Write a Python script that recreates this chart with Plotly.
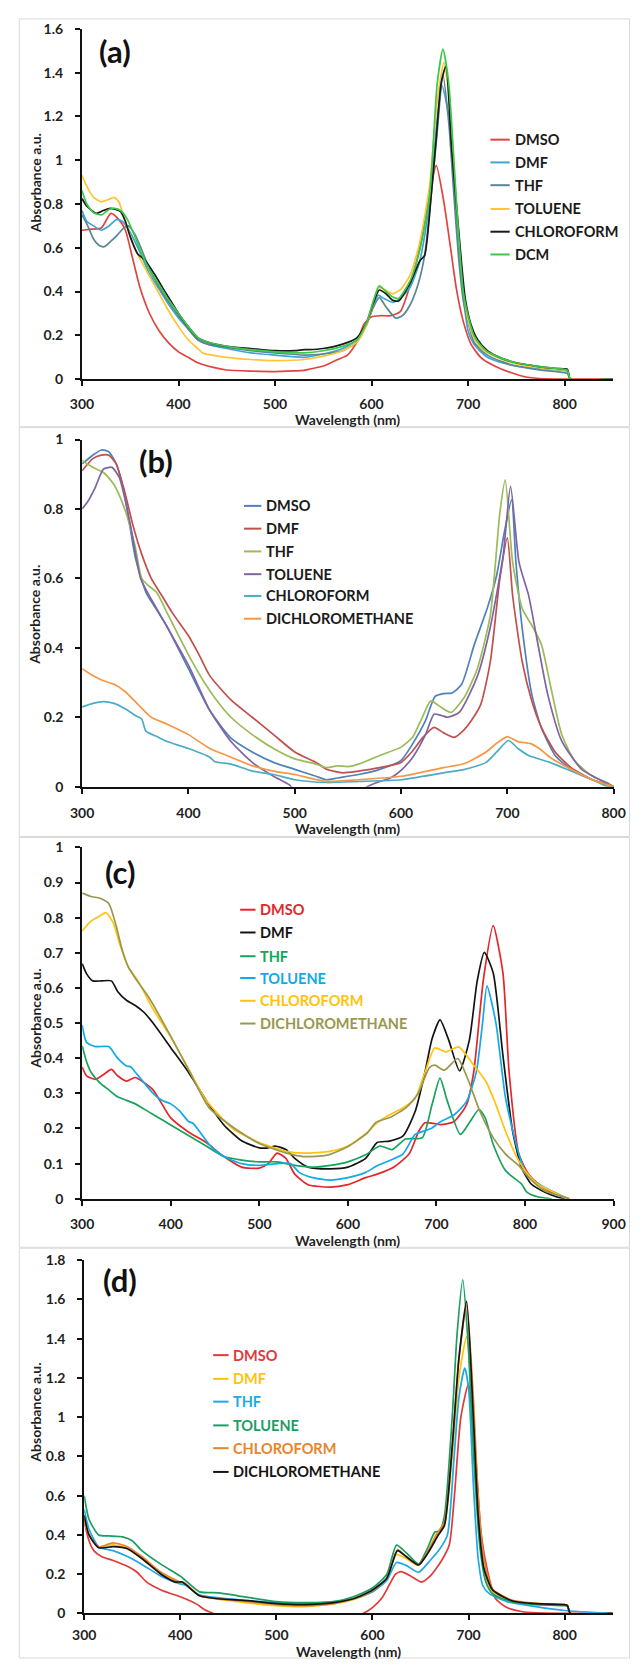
import plotly.graph_objects as go

W, H = 642, 1667

# ---------------- Panel (a) ----------------
A_DMSO_WL = [300, 310, 320, 330, 338, 345, 352, 360, 370, 380, 390, 400, 410, 420, 435, 450, 475, 500, 520, 530, 535, 550, 565, 575, 585, 592, 600, 610, 620, 630, 640, 650, 660, 667, 675, 682, 688, 695, 703, 713, 723, 735, 748, 760, 780, 850]
A_DMSO_ABS = [0.68, 0.685, 0.69, 0.757, 0.73, 0.68, 0.56, 0.42, 0.3, 0.22, 0.165, 0.125, 0.1, 0.075, 0.055, 0.042, 0.037, 0.035, 0.038, 0.04, 0.045, 0.06, 0.09, 0.11, 0.17, 0.25, 0.285, 0.29, 0.29, 0.31, 0.43, 0.6, 0.84, 0.976, 0.806, 0.595, 0.41, 0.264, 0.16, 0.1, 0.07, 0.045, 0.025, 0.01, 0.002, 0.0]

A_DMF_WL = [300, 305, 312, 320, 328, 336, 342, 350, 360, 370, 380, 390, 400, 410, 420, 430, 450, 475, 500, 530, 550, 570, 585, 595, 602, 607, 612, 622, 630, 640, 650, 660, 667, 673, 680, 685, 690, 695, 700, 706, 712, 720, 735, 750, 770, 790, 800, 803, 806, 850]
A_DMF_ABS = [0.77, 0.72, 0.7, 0.68, 0.7, 0.73, 0.72, 0.67, 0.58, 0.48, 0.41, 0.34, 0.28, 0.23, 0.18, 0.16, 0.14, 0.12, 0.11, 0.1, 0.115, 0.14, 0.18, 0.25, 0.34, 0.384, 0.37, 0.351, 0.37, 0.42, 0.54, 0.8, 1.15, 1.34, 1.2, 0.93, 0.62, 0.38, 0.22, 0.16, 0.13, 0.1, 0.075, 0.06, 0.05, 0.042, 0.04, 0.035, 0.0, 0.0]

A_THF_WL = [300, 306, 312, 318, 323, 330, 337, 343, 348, 355, 362, 370, 380, 390, 400, 410, 420, 430, 450, 475, 500, 530, 550, 570, 585, 595, 602, 608, 615, 625, 632, 640, 648, 655, 660, 667, 674, 680, 685, 690, 695, 700, 706, 712, 720, 735, 750, 770, 790, 800, 803, 806, 850]
A_THF_ABS = [0.75, 0.7, 0.64, 0.61, 0.605, 0.63, 0.66, 0.69, 0.7, 0.66, 0.59, 0.5, 0.42, 0.35, 0.29, 0.23, 0.18, 0.16, 0.145, 0.13, 0.12, 0.11, 0.115, 0.13, 0.17, 0.25, 0.33, 0.372, 0.33, 0.279, 0.29, 0.34, 0.43, 0.565, 0.76, 1.08, 1.386, 1.17, 0.86, 0.565, 0.36, 0.26, 0.17, 0.14, 0.11, 0.08, 0.06, 0.045, 0.035, 0.03, 0.025, 0.0, 0.0]

A_TOL_WL = [300, 305, 312, 320, 327, 333, 338, 345, 352, 360, 370, 380, 390, 400, 410, 420, 425, 435, 450, 475, 500, 530, 550, 570, 585, 595, 602, 607, 613, 622, 630, 640, 650, 660, 668, 675, 680, 685, 690, 695, 700, 706, 712, 720, 735, 750, 770, 790, 800, 803, 806, 850]
A_TOL_ABS = [0.93, 0.88, 0.83, 0.81, 0.82, 0.83, 0.81, 0.72, 0.63, 0.55, 0.47, 0.39, 0.31, 0.24, 0.18, 0.14, 0.12, 0.11, 0.1, 0.09, 0.085, 0.09, 0.105, 0.13, 0.17, 0.25, 0.35, 0.42, 0.41, 0.39, 0.41, 0.475, 0.625, 0.88, 1.27, 1.447, 1.3, 1.0, 0.68, 0.42, 0.27, 0.19, 0.15, 0.12, 0.09, 0.07, 0.055, 0.045, 0.042, 0.04, 0.0, 0.0]

A_CHL_WL = [300, 305, 315, 322, 329, 335, 340, 345, 350, 358, 365, 375, 386, 393, 400, 410, 420, 430, 450, 475, 500, 520, 530, 535, 550, 570, 585, 595, 602, 608, 615, 622, 628, 640, 650, 655, 662, 667, 672, 677, 683, 690, 697, 703, 710, 720, 735, 750, 770, 790, 800, 803, 806, 850]
A_CHL_ABS = [0.825, 0.79, 0.757, 0.77, 0.78, 0.775, 0.765, 0.72, 0.65, 0.57, 0.545, 0.48, 0.4, 0.35, 0.3, 0.24, 0.19, 0.17, 0.15, 0.14, 0.13, 0.13, 0.135, 0.135, 0.14, 0.16, 0.19, 0.26, 0.35, 0.407, 0.39, 0.36, 0.357, 0.44, 0.54, 0.565, 0.85, 1.1, 1.35, 1.43, 1.05, 0.69, 0.37, 0.25, 0.18, 0.13, 0.095, 0.075, 0.06, 0.05, 0.047, 0.045, 0.0, 0.0]

A_DCM_WL = [300, 305, 312, 320, 328, 334, 340, 347, 355, 362, 370, 380, 390, 400, 410, 420, 430, 450, 475, 500, 530, 550, 570, 585, 595, 602, 608, 615, 622, 628, 640, 650, 660, 668, 674, 680, 685, 690, 695, 700, 706, 712, 720, 735, 750, 770, 790, 800, 803, 806, 850]
A_DCM_ABS = [0.862, 0.8, 0.76, 0.75, 0.775, 0.78, 0.77, 0.73, 0.65, 0.57, 0.5, 0.43, 0.36, 0.3, 0.24, 0.19, 0.17, 0.15, 0.135, 0.125, 0.12, 0.13, 0.15, 0.18, 0.26, 0.36, 0.426, 0.4, 0.375, 0.369, 0.45, 0.59, 0.83, 1.35, 1.507, 1.35, 1.02, 0.67, 0.4, 0.29, 0.2, 0.16, 0.125, 0.095, 0.075, 0.06, 0.05, 0.045, 0.04, 0.0, 0.0]

# ---------------- Panel (b) ----------------
B_DMSO_WL = [300, 310, 318, 325, 332, 340, 350, 360, 370, 380, 400, 420, 440, 460, 480, 500, 520, 530, 540, 560, 580, 600, 611, 623, 632, 640, 648, 657, 669, 681, 690, 697, 704, 708, 714, 723, 732, 745, 760, 780, 795, 800]
B_DMSO_ABS = [0.93, 0.955, 0.97, 0.965, 0.93, 0.84, 0.66, 0.56, 0.51, 0.46, 0.34, 0.22, 0.14, 0.1, 0.07, 0.05, 0.03, 0.02, 0.025, 0.035, 0.05, 0.076, 0.124, 0.19, 0.26, 0.268, 0.27, 0.295, 0.41, 0.513, 0.61, 0.73, 0.827, 0.65, 0.456, 0.266, 0.17, 0.09, 0.05, 0.02, 0.005, 0.0]

B_DMF_WL = [300, 310, 318, 325, 332, 340, 348, 356, 365, 375, 385, 400, 410, 420, 440, 460, 480, 500, 520, 530, 545, 560, 580, 600, 610, 620, 631, 640, 650, 658, 666, 675, 684, 693, 700, 705, 714, 723, 732, 745, 760, 780, 795, 800]
B_DMF_ABS = [0.91, 0.945, 0.955, 0.955, 0.93, 0.85, 0.75, 0.67, 0.6, 0.55, 0.5, 0.435, 0.38, 0.32, 0.25, 0.2, 0.15, 0.1, 0.07, 0.05, 0.04, 0.045, 0.055, 0.07, 0.1, 0.14, 0.171, 0.155, 0.142, 0.16, 0.19, 0.237, 0.36, 0.6, 0.717, 0.55, 0.36, 0.247, 0.171, 0.1, 0.055, 0.02, 0.005, 0.0]

B_THF_WL = [300, 310, 320, 330, 340, 350, 356, 362, 370, 380, 400, 415, 425, 440, 460, 480, 500, 520, 530, 540, 550, 560, 580, 600, 611, 620, 628, 637, 647, 660, 672, 684, 693, 698, 705, 714, 723, 732, 741, 751, 763, 780, 795, 800]
B_THF_ABS = [0.94, 0.92, 0.905, 0.87, 0.8, 0.69, 0.6, 0.58, 0.56, 0.5, 0.38, 0.3, 0.255, 0.2, 0.15, 0.11, 0.08, 0.065, 0.055, 0.06, 0.058, 0.065, 0.09, 0.114, 0.143, 0.2, 0.247, 0.23, 0.214, 0.26, 0.342, 0.494, 0.79, 0.884, 0.646, 0.513, 0.465, 0.41, 0.285, 0.152, 0.076, 0.03, 0.01, 0.0]

B_TOL_WL = [300, 305, 312, 320, 328, 335, 345, 355, 365, 380, 400, 420, 440, 460, 480, 495, 502, 560, 568, 580, 590, 600, 611, 623, 631, 638, 644, 655, 672, 684, 696, 703, 711, 720, 726, 738, 751, 770, 795, 800]
B_TOL_ABS = [0.8, 0.82, 0.86, 0.915, 0.92, 0.89, 0.76, 0.6, 0.54, 0.46, 0.35, 0.22, 0.13, 0.07, 0.03, 0.005, -0.02, -0.02, 0.0, 0.015, 0.025, 0.047, 0.085, 0.15, 0.209, 0.205, 0.2, 0.215, 0.32, 0.46, 0.665, 0.865, 0.646, 0.551, 0.456, 0.266, 0.133, 0.05, 0.008, 0.0]

B_CHL_WL = [300, 310, 320, 330, 340, 350, 356, 360, 370, 380, 400, 420, 425, 440, 460, 480, 500, 530, 560, 600, 640, 660, 680, 690, 701, 710, 720, 740, 760, 780, 795, 800]
B_CHL_ABS = [0.23, 0.24, 0.245, 0.24, 0.225, 0.205, 0.195, 0.16, 0.145, 0.13, 0.11, 0.085, 0.072, 0.065, 0.045, 0.035, 0.02, 0.012, 0.015, 0.02, 0.04, 0.05, 0.07, 0.1, 0.133, 0.11, 0.09, 0.07, 0.045, 0.02, 0.0, 0.0]

B_DCM_WL = [300, 310, 320, 330, 340, 350, 358, 365, 380, 400, 420, 440, 460, 480, 500, 530, 560, 600, 640, 660, 680, 690, 700, 710, 722, 730, 740, 760, 780, 800]
B_DCM_ABS = [0.34, 0.32, 0.305, 0.295, 0.275, 0.245, 0.22, 0.2, 0.18, 0.15, 0.11, 0.085, 0.06, 0.045, 0.035, 0.015, 0.02, 0.03, 0.055, 0.067, 0.1, 0.125, 0.144, 0.13, 0.124, 0.11, 0.085, 0.05, 0.02, 0.0]

# ---------------- Panel (c) ----------------
C_DMSO_WL = [300, 305, 315, 325, 333, 340, 350, 360, 370, 380, 390, 400, 420, 440, 460, 480, 500, 510, 520, 530, 540, 555, 580, 600, 620, 633, 651, 669, 680, 687, 695, 705, 720, 734, 742, 753, 764, 775, 782, 793, 804, 815, 829, 844, 850]
C_DMSO_ABS = [0.375, 0.35, 0.34, 0.355, 0.368, 0.35, 0.335, 0.345, 0.33, 0.31, 0.27, 0.23, 0.19, 0.16, 0.12, 0.09, 0.087, 0.1, 0.13, 0.115, 0.07, 0.04, 0.033, 0.04, 0.06, 0.07, 0.089, 0.127, 0.192, 0.216, 0.215, 0.211, 0.22, 0.268, 0.36, 0.624, 0.777, 0.643, 0.36, 0.127, 0.07, 0.042, 0.019, 0.005, 0.0]

C_DMF_WL = [300, 305, 312, 322, 333, 340, 350, 360, 370, 380, 400, 420, 440, 460, 480, 500, 510, 518, 530, 540, 555, 580, 600, 620, 633, 647, 662, 676, 687, 695, 704, 714, 726, 737, 746, 754, 764, 775, 786, 796, 807, 822, 836, 845]
C_DMF_ABS = [0.669, 0.64, 0.62, 0.62, 0.62, 0.59, 0.565, 0.55, 0.53, 0.5, 0.43, 0.36, 0.28, 0.21, 0.165, 0.145, 0.145, 0.15, 0.14, 0.115, 0.09, 0.085, 0.09, 0.115, 0.16, 0.164, 0.178, 0.249, 0.36, 0.455, 0.509, 0.45, 0.364, 0.45, 0.62, 0.701, 0.643, 0.408, 0.192, 0.089, 0.042, 0.019, 0.005, 0.0]

C_THF_WL = [300, 305, 310, 320, 330, 340, 350, 360, 370, 380, 400, 420, 440, 460, 480, 500, 520, 540, 560, 580, 600, 620, 636, 650, 665, 684, 695, 704, 712, 727, 738, 748, 755, 764, 778, 796, 802, 815, 830]
C_THF_ABS = [0.435, 0.39, 0.36, 0.33, 0.31, 0.29, 0.28, 0.27, 0.255, 0.24, 0.21, 0.18, 0.15, 0.12, 0.11, 0.105, 0.105, 0.095, 0.09, 0.095, 0.105, 0.125, 0.15, 0.14, 0.17, 0.174, 0.268, 0.343, 0.28, 0.183, 0.22, 0.254, 0.23, 0.155, 0.08, 0.042, 0.019, 0.005, 0.0]

C_TOL_WL = [300, 305, 315, 330, 340, 350, 355, 360, 370, 380, 390, 400, 410, 420, 425, 430, 445, 460, 480, 500, 520, 535, 545, 560, 580, 600, 620, 633, 662, 676, 694, 705, 720, 734, 745, 752, 757, 767, 778, 793, 804, 820, 840, 848]
C_TOL_ABS = [0.494, 0.445, 0.433, 0.433, 0.4, 0.378, 0.375, 0.36, 0.33, 0.3, 0.28, 0.27, 0.25, 0.22, 0.215, 0.2, 0.15, 0.12, 0.1, 0.095, 0.1, 0.1, 0.075, 0.06, 0.053, 0.06, 0.075, 0.094, 0.127, 0.183, 0.2, 0.22, 0.239, 0.277, 0.361, 0.5, 0.606, 0.502, 0.286, 0.127, 0.061, 0.035, 0.01, 0.0]

C_CHL_WL = [300, 310, 320, 327, 335, 343, 352, 363, 380, 400, 420, 440, 470, 500, 530, 550, 580, 600, 620, 633, 647, 662, 676, 687, 698, 711, 725, 742, 756, 767, 778, 789, 800, 814, 836, 847]
C_CHL_ABS = [0.762, 0.79, 0.805, 0.814, 0.785, 0.72, 0.66, 0.62, 0.54, 0.46, 0.37, 0.28, 0.2, 0.16, 0.135, 0.13, 0.135, 0.15, 0.185, 0.216, 0.239, 0.258, 0.286, 0.36, 0.429, 0.418, 0.432, 0.38, 0.333, 0.268, 0.192, 0.127, 0.08, 0.042, 0.014, 0.0]

C_DCM_WL = [300, 310, 320, 330, 338, 345, 352, 362, 376, 399, 421, 443, 470, 500, 532, 550, 577, 599, 621, 632, 648, 666, 679, 692, 698, 709, 724, 735, 749, 764, 778, 793, 804, 822, 844, 850]
C_DCM_ABS = [0.87, 0.86, 0.855, 0.84, 0.78, 0.71, 0.66, 0.62, 0.57, 0.467, 0.363, 0.26, 0.204, 0.157, 0.129, 0.12, 0.124, 0.147, 0.185, 0.218, 0.232, 0.26, 0.298, 0.373, 0.38, 0.366, 0.399, 0.343, 0.249, 0.174, 0.127, 0.094, 0.061, 0.023, 0.005, 0.0]

# ---------------- Panel (d) ----------------
D_DMSO_WL = [300, 305, 310, 318, 330, 345, 355, 365, 380, 400, 410, 418, 425, 432, 440, 580, 590, 600, 610, 618, 624, 630, 640, 651, 660, 672, 680, 685, 692, 700, 707, 713, 720, 728, 740, 755, 770, 850]
D_DMSO_ABS = [0.47, 0.37, 0.32, 0.29, 0.27, 0.24, 0.21, 0.16, 0.12, 0.085, 0.065, 0.045, 0.02, 0.005, -0.01, -0.01, 0.0, 0.03, 0.08, 0.15, 0.2, 0.213, 0.19, 0.16, 0.19, 0.27, 0.35, 0.58, 1.0, 1.17, 0.83, 0.41, 0.21, 0.076, 0.03, 0.01, 0.003, 0.0]

D_DMF_WL = [300, 305, 315, 330, 345, 360, 380, 400, 405, 420, 460, 500, 530, 560, 580, 600, 615, 625, 635, 648, 658, 667, 675, 683, 690, 698, 705, 711, 718, 725, 745, 770, 800, 803, 806, 850]
D_DMF_ABS = [0.47, 0.4, 0.34, 0.35, 0.33, 0.28, 0.2, 0.155, 0.15, 0.09, 0.06, 0.04, 0.035, 0.05, 0.07, 0.11, 0.18, 0.3, 0.28, 0.245, 0.32, 0.41, 0.46, 0.8, 1.2, 1.41, 0.95, 0.4, 0.18, 0.11, 0.065, 0.05, 0.045, 0.04, 0.0, 0.0]

D_THF_WL = [300, 305, 315, 330, 345, 360, 380, 400, 405, 420, 460, 500, 530, 560, 580, 600, 615, 625, 635, 648, 660, 670, 678, 685, 690, 696, 700, 705, 710, 715, 722, 740, 770, 800, 850]
D_THF_ABS = [0.53, 0.43, 0.34, 0.32, 0.29, 0.25, 0.19, 0.15, 0.145, 0.095, 0.07, 0.055, 0.05, 0.06, 0.075, 0.11, 0.17, 0.26, 0.245, 0.21, 0.27, 0.328, 0.4, 0.8, 1.1, 1.25, 1.15, 0.66, 0.28, 0.14, 0.1, 0.06, 0.035, 0.015, 0.0]

D_TOL_WL = [300, 305, 315, 325, 340, 350, 360, 380, 400, 405, 420, 440, 460, 500, 530, 560, 580, 600, 615, 625, 635, 648, 657, 665, 670, 675, 683, 688, 694, 700, 705, 712, 718, 725, 745, 770, 800, 803, 806, 850]
D_TOL_ABS = [0.6, 0.48, 0.4, 0.395, 0.39, 0.37, 0.32, 0.25, 0.19, 0.17, 0.11, 0.105, 0.09, 0.06, 0.055, 0.06, 0.085, 0.13, 0.2, 0.348, 0.31, 0.252, 0.33, 0.415, 0.42, 0.5, 1.0, 1.42, 1.7, 1.34, 0.83, 0.33, 0.16, 0.1, 0.06, 0.045, 0.04, 0.035, 0.0, 0.0]

D_CHL_WL = [300, 305, 315, 330, 345, 360, 380, 400, 405, 420, 460, 500, 530, 560, 580, 600, 615, 626, 635, 648, 658, 668, 675, 683, 690, 698, 705, 710, 716, 725, 745, 770, 800, 803, 806, 850]
D_CHL_ABS = [0.48, 0.4, 0.34, 0.36, 0.34, 0.29, 0.21, 0.16, 0.155, 0.09, 0.065, 0.045, 0.04, 0.05, 0.075, 0.115, 0.18, 0.325, 0.29, 0.247, 0.32, 0.41, 0.47, 0.85, 1.3, 1.57, 1.1, 0.6, 0.28, 0.125, 0.068, 0.052, 0.045, 0.04, 0.0, 0.0]

D_DCM_WL = [300, 305, 315, 330, 345, 360, 380, 395, 402, 420, 440, 470, 500, 530, 560, 580, 600, 615, 626, 635, 648, 658, 668, 675, 683, 690, 698, 705, 710, 716, 725, 745, 770, 800, 803, 806, 850]
D_DCM_ABS = [0.5, 0.4, 0.335, 0.34, 0.33, 0.28, 0.2, 0.16, 0.16, 0.09, 0.075, 0.065, 0.05, 0.045, 0.055, 0.075, 0.12, 0.18, 0.32, 0.29, 0.247, 0.31, 0.395, 0.45, 0.85, 1.3, 1.59, 1.0, 0.5, 0.23, 0.12, 0.065, 0.05, 0.045, 0.04, 0.0, 0.0]

# name, wavelengths, absorbances, line colour, legend text colour
PANELS = [
    dict(tag="(a)", xr=[300, 850], yr=[0, 1.6], dy=0.2,
         box=(72.7, 624.2, 20, 374), label=(107, 42), ytitle=176, xtitle=415, xstand=6,
         leg=(497, 517, 520, [132, 155, 178, 202, 225, 248]),
         series=[("DMSO", A_DMSO_WL, A_DMSO_ABS, "#E0443E", "#1a1a1a"),
                 ("DMF", A_DMF_WL, A_DMF_ABS, "#3FA4D8", "#1a1a1a"),
                 ("THF", A_THF_WL, A_THF_ABS, "#5A8796", "#1a1a1a"),
                 ("TOLUENE", A_TOL_WL, A_TOL_ABS, "#FFC535", "#1a1a1a"),
                 ("CHLOROFORM", A_CHL_WL, A_CHL_ABS, "#1a1a1a", "#1a1a1a"),
                 ("DCM", A_DCM_WL, A_DCM_ABS, "#3CC84A", "#1a1a1a")]),
    dict(tag="(b)", xr=[300, 800], yr=[0, 1.0], dy=0.2,
         box=(72.9, 625, 435, 785.7), label=(150, 457), ytitle=612, xtitle=828, xstand=8,
         leg=(241, 259, 262, [502, 525, 548, 571, 593, 616]),
         series=[("DMSO", B_DMSO_WL, B_DMSO_ABS, "#4F81BD", "#1a1a1a"),
                 ("DMF", B_DMF_WL, B_DMF_ABS, "#C0504D", "#1a1a1a"),
                 ("THF", B_THF_WL, B_THF_ABS, "#9BBB59", "#1a1a1a"),
                 ("TOLUENE", B_TOL_WL, B_TOL_ABS, "#8064A2", "#1a1a1a"),
                 ("CHLOROFORM", B_CHL_WL, B_CHL_ABS, "#4BACC6", "#1a1a1a"),
                 ("DICHLOROMETHANE", B_DCM_WL, B_DCM_ABS, "#F79646", "#1a1a1a")]),
    dict(tag="(c)", xr=[300, 900], yr=[0, 1.0], dy=0.1,
         box=(72.9, 625, 847, 1202), label=(113, 872), ytitle=1020, xtitle=1244, xstand=6,
         leg=(237, 253, 256, [910, 933, 957, 979, 1002, 1025]),
         series=[("DMSO", C_DMSO_WL, C_DMSO_ABS, "#E3262A", "#E3262A"),
                 ("DMF", C_DMF_WL, C_DMF_ABS, "#141414", "#141414"),
                 ("THF", C_THF_WL, C_THF_ABS, "#16A35A", "#16A35A"),
                 ("TOLUENE", C_TOL_WL, C_TOL_ABS, "#12A9EA", "#12A9EA"),
                 ("CHLOROFORM", C_CHL_WL, C_CHL_ABS, "#FFC20E", "#FFC20E"),
                 ("DICHLOROMETHANE", C_DCM_WL, C_DCM_ABS, "#98984E", "#98984E")]),
    dict(tag="(d)", xr=[300, 850], yr=[0, 1.8], dy=0.2,
         box=(75, 624, 1264, 1621), label=(112, 1284), ytitle=1418, xtitle=1659, xstand=3,
         leg=(209, 225, 228, [1360, 1384, 1407, 1431, 1454, 1478]),
         series=[("DMSO", D_DMSO_WL, D_DMSO_ABS, "#E03A3A", "#E03A3A"),
                 ("DMF", D_DMF_WL, D_DMF_ABS, "#FFC20E", "#FFC20E"),
                 ("THF", D_THF_WL, D_THF_ABS, "#1EA8E6", "#1EA8E6"),
                 ("TOLUENE", D_TOL_WL, D_TOL_ABS, "#1A9E62", "#1A9E62"),
                 ("CHLOROFORM", D_CHL_WL, D_CHL_ABS, "#E8842C", "#E8842C"),
                 ("DICHLOROMETHANE", D_DCM_WL, D_DCM_ABS, "#141414", "#141414")]),
]

# panel frames (pixel y top / bottom)
FRAMES = [(10, 422), (423, 836), (837, 1251), (1252, 1666)]

FONT = "Lato, 'Open Sans', sans-serif"
INK = "#1f1f1f"


def px(x):
    return x / W


def py(y):
    return 1 - y / H


fig = go.Figure()
shapes = []
annotations = []

for i, p in enumerate(PANELS, start=1):
    xa = "x" if i == 1 else f"x{i}"
    ya = "y" if i == 1 else f"y{i}"
    x0, x1, ytop, ybot = p["box"]

    for name, wl, ab, col, _ in p["series"]:
        fig.add_trace(go.Scatter(
            x=wl, y=ab, name=name, mode="lines", xaxis=xa, yaxis=ya,
            line=dict(color=col, width=1.7, shape="spline", smoothing=0.6),
            showlegend=False, hoverinfo="x+y+name"))

    axis_common = dict(showgrid=False, zeroline=False, showline=True,
                       linecolor="#111111", linewidth=2, ticks="outside",
                       ticklen=5, tickwidth=1.5, tickcolor="#111111",
                       tickfont=dict(family=FONT, size=14, color=INK, weight="bold"),
                       fixedrange=True)
    xkey = "xaxis" if i == 1 else f"xaxis{i}"
    ykey = "yaxis" if i == 1 else f"yaxis{i}"
    fig.update_layout(**{
        xkey: dict(axis_common, domain=[px(x0), px(x1)], range=p["xr"],
                   tick0=300, dtick=100, anchor=ya, ticklabelstandoff=p["xstand"]),
        ykey: dict(axis_common, domain=[py(ybot), py(ytop)], range=p["yr"],
                   tick0=0, dtick=p["dy"], anchor=xa, ticklabelstandoff=9),
    })

    # panel tag
    annotations.append(dict(text=f"<b>{p['tag']}</b>", x=px(p["label"][0]), y=py(p["label"][1]),
                            xref="paper", yref="paper", showarrow=False,
                            xanchor="center", yanchor="middle",
                            font=dict(family=FONT, size=31, color="#111111")))
    # axis titles
    annotations.append(dict(text="<b>Wavelength (nm)</b>", x=px((x0 + x1) / 2), y=py(p["xtitle"]),
                            xref="paper", yref="paper", showarrow=False,
                            xanchor="center", yanchor="middle",
                            font=dict(family=FONT, size=14, color=INK)))
    annotations.append(dict(text="<b>Absorbance a.u.</b>", x=px(24), y=py(p["ytitle"]),
                            xref="paper", yref="paper", showarrow=False, textangle=-90,
                            xanchor="center", yanchor="middle",
                            font=dict(family=FONT, size=14, color=INK)))

    # legend block
    lx0, lx1, tx, rows = p["leg"]
    for (name, _, _, col, tcol), yy in zip(p["series"], rows):
        shapes.append(dict(type="line", xref="paper", yref="paper",
                           x0=px(lx0), x1=px(lx1), y0=py(yy), y1=py(yy),
                           line=dict(color=col, width=2)))
        annotations.append(dict(text=f"<b>{name}</b>", x=px(tx), y=py(yy),
                                xref="paper", yref="paper", showarrow=False,
                                xanchor="left", yanchor="middle",
                                font=dict(family=FONT, size=14.5, color=tcol)))

for top, bot in FRAMES:
    shapes.append(dict(type="rect", xref="paper", yref="paper",
                       x0=px(7.5), x1=px(641.5), y0=py(bot), y1=py(top),
                       line=dict(color="#d9d9d9", width=1), layer="below"))

fig.update_layout(
    width=W, height=H,
    margin=dict(l=0, r=0, t=0, b=0),
    paper_bgcolor="white", plot_bgcolor="white",
    showlegend=False,
    shapes=shapes, annotations=annotations,
    font=dict(family=FONT, color=INK),
)

# the page body keeps no default margin so the figure sits flush at the top-left
fig.write_html("out.html",
               post_script="document.body.style.margin='0';document.body.style.overflow='hidden';")
